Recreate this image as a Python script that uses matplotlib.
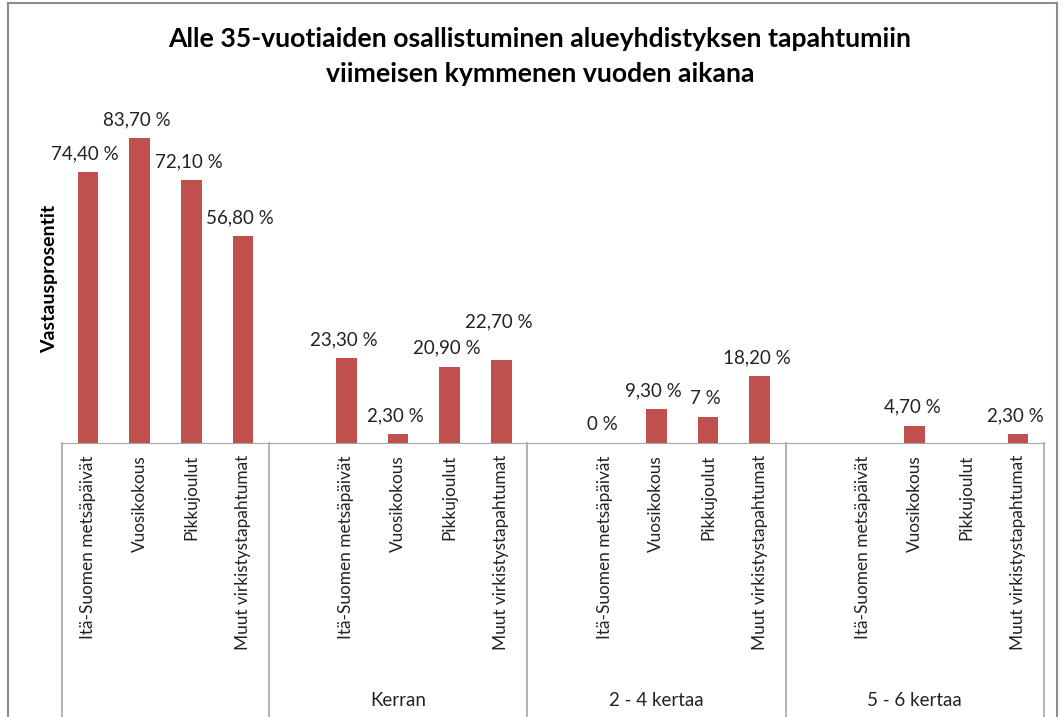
import numpy as np
import matplotlib
matplotlib.use("Agg")
import matplotlib.pyplot as plt
from matplotlib.lines import Line2D

plt.rcParams['font.family'] = ['Lato', 'DejaVu Sans']

# data (None = no bar / no label)
events = ['Itä-Suomen metsäpäivät', 'Vuosikokous', 'Pikkujoulut', 'Muut virkistystapahtumat']
groups = ['', 'Kerran', '2 - 4 kertaa', '5 - 6 kertaa']
values = [
    [74.4, 83.7, 72.1, 56.8],
    [23.3, 2.3, 20.9, 22.7],
    [0, 9.3, 7, 18.2],
    [None, 4.7, None, 2.3],
]

title = 'Alle 35-vuotiaiden osallistuminen alueyhdistyksen tapahtumiin\nviimeisen kymmenen vuoden aikana'
bar_color = '#C0504D'
line_color = '#A6A6A6'


def fmt(v):
    if float(v).is_integer():
        return '%d %%' % v
    return ('%.2f' % v).replace('.', ',') + ' %'


W, H = 1064, 717
fig = plt.figure(figsize=(W / 100, H / 100), dpi=100)
ax = fig.add_axes([62 / W, (H - 442.7) / H, 982 / W, 327.8 / H])

# first group has 4 slots, the others start with one empty slot
pos = []
start = 0
for gi in range(len(groups)):
    if gi > 0:
        start += 1
    pos.append([start + i for i in range(len(events))])
    start += len(events)

xs, hs, all_pos, all_lbls = [], [], [], []
for gi, g in enumerate(groups):
    for i, ev in enumerate(events):
        all_pos.append(pos[gi][i])
        all_lbls.append(ev)
        v = values[gi][i]
        if v is None:
            continue
        xs.append(pos[gi][i])
        hs.append(v)

ax.bar(xs, hs, width=0.4, color=bar_color, zorder=2)

for x, v in zip(xs, hs):
    extra = 14 if (x == pos[1][3]) else 0  # this label was nudged up in the original
    ax.annotate(fmt(v), (x, v), xytext=(-2, 7 + extra), textcoords='offset points',
                ha='center', va='bottom', fontsize=13.5, color='#222222')

ax.set_xlim(-0.5, start - 0.5)
ax.set_ylim(0, 90)
ax.set_xticks(all_pos)
ax.set_xticklabels(all_lbls, rotation=90, fontsize=12.4, color='#222222')
ax.tick_params(axis='x', length=0, pad=9)
ax.set_yticks([])
for s in ['top', 'right', 'left']:
    ax.spines[s].set_visible(False)
ax.spines['bottom'].set_color(line_color)

ax.set_ylabel('Vastausprosentit', fontsize=14, fontweight='bold')
ax.yaxis.set_label_coords(-0.004, 0.5)

# group separators and labels below the axis
bounds = [-0.5, 3.5, 8.5, 13.5, 18.5]
trans = ax.get_xaxis_transform()
bottom_ax = -(H - 442.7) / 327.8
for b in bounds:
    ax.add_line(Line2D([b, b], [0, bottom_ax], transform=trans, color=line_color,
                       lw=1.2, clip_on=False))
for gi, g in enumerate(groups):
    cx = (bounds[gi] + bounds[gi + 1]) / 2
    ax.text(cx, bottom_ax + 17 / 327.8, g, transform=trans, ha='center', va='center',
            fontsize=13.5, color='#222222')

fig.suptitle(title, x=540 / W, y=1 - 27 / H, fontsize=19.2, fontweight='bold', linespacing=1.55)

# outer chart frame
fig.add_artist(Line2D([8 / W, 8 / W], [0, 1 - 3 / H], color='#8C8C8C', lw=1.5))
fig.add_artist(Line2D([8 / W, 1057 / W], [1 - 3 / H, 1 - 3 / H], color='#8C8C8C', lw=1.5))
fig.add_artist(Line2D([1057 / W, 1057 / W], [0, 1 - 3 / H], color='#8C8C8C', lw=1.5))

fig.savefig('out.png', dpi=100)
